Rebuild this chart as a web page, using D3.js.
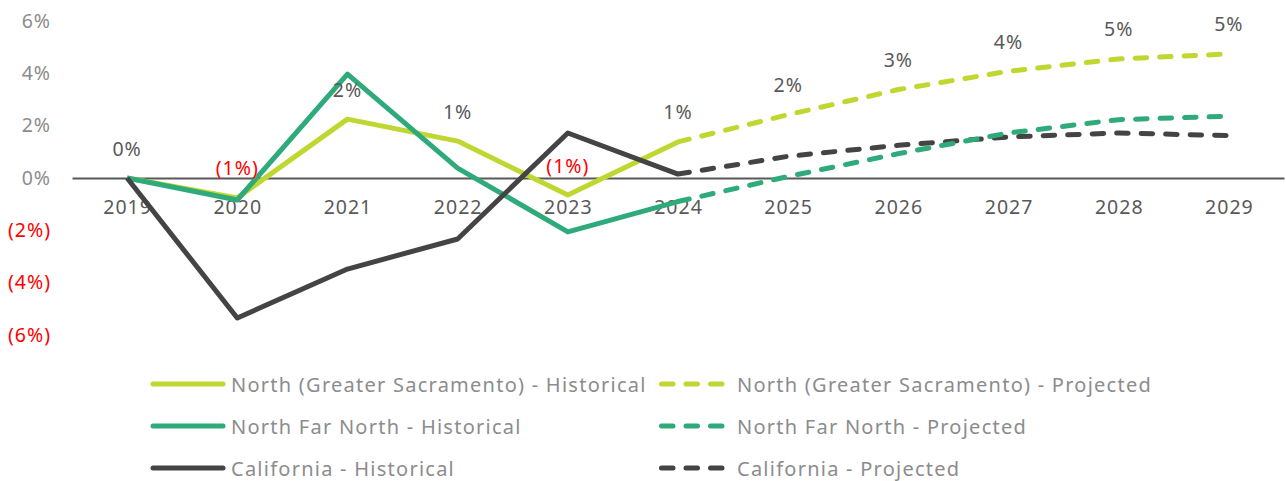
<!DOCTYPE html>
<html>
<head>
<meta charset="utf-8">
<script src="https://cdn.jsdelivr.net/npm/d3@7.9.0/dist/d3.min.js"></script>
<style>
  body { margin: 0; background: #fff; }
  svg { display: block; font-family: "Noto Sans", sans-serif; }
</style>
</head>
<body>
<svg id="chart" width="1286" height="481"></svg>
<script>
// Years on the category axis
const years = ['2019', '2020', '2021', '2022', '2023', '2024', '2025', '2026', '2027', '2028', '2029'];
const histYears = ['2019', '2020', '2021', '2022', '2023', '2024'];
const projYears = ['2024', '2025', '2026', '2027', '2028', '2029'];

// Annual change, %
const sacHist = [0, -0.76, 2.25, 1.41, -0.65, 1.38];
const sacProj = [1.38, 2.42, 3.38, 4.08, 4.55, 4.74];
const farHist = [0, -0.84, 3.97, 0.38, -2.06, -0.9];
const farProj = [-0.9, 0.06, 0.93, 1.72, 2.23, 2.36];
const caHist = [0, -5.35, -3.48, -2.33, 1.72, 0.15];
const caProj = [0.15, 0.83, 1.25, 1.57, 1.72, 1.62];

const yTicks = [-6, -4, -2, 0, 2, 4, 6];

const regionNames = ['North (Greater Sacramento)', 'North Far North', 'California'];
const regionColors = ['#bfd730', '#2eaa7b', '#444444'];

const svg = d3.select('#chart');

const x = d3.scalePoint().domain(years).range([72, 1284]).padding(0.5);
const y = d3.scaleLinear().domain([-6, 6]).range([335, 21]);

const pct = v => {
  const r = Math.round(Math.abs(v));
  return v < -0.005 ? `(${r}%)` : `${r}%`;
};

// y axis labels
const yAxis = svg.append('g')
  .attr('transform', 'translate(72,0)')
  .call(d3.axisLeft(y).tickValues(yTicks).tickSize(0).tickPadding(21).tickFormat(pct));
yAxis.select('.domain').remove();
yAxis.selectAll('text')
  .attr('font-size', 19.5)
  .attr('letter-spacing', 1)
  .attr('font-family', '"Noto Sans", sans-serif')
  .attr('fill', d => d < 0 ? '#ff0000' : '#8c8c8c');

// x axis sits on zero
const xAxis = svg.append('g')
  .attr('transform', `translate(0,${y(0)})`)
  .call(d3.axisBottom(x).tickSize(0).tickSizeOuter(0).tickPadding(22));
xAxis.select('.domain').attr('stroke', '#595959').attr('stroke-width', 2);
xAxis.selectAll('text')
  .attr('font-size', 19.5)
  .attr('letter-spacing', 1)
  .attr('font-family', '"Noto Sans", sans-serif')
  .attr('fill', '#595959');

const line = d3.line()
  .x(d => x(d[0]))
  .y(d => y(d[1]));

const dash = '11.5 13';

const series = [
  { vals: sacHist, yrs: histYears, color: regionColors[0], dashed: false },
  { vals: farHist, yrs: histYears, color: regionColors[1], dashed: false },
  { vals: caHist, yrs: histYears, color: regionColors[2], dashed: false },
  { vals: sacProj, yrs: projYears, color: regionColors[0], dashed: true },
  { vals: caProj, yrs: projYears, color: regionColors[2], dashed: true },
  { vals: farProj, yrs: projYears, color: regionColors[1], dashed: true }
];

series.forEach(s => {
  svg.append('path')
    .datum(d3.zip(s.yrs, s.vals))
    .attr('d', line)
    .attr('fill', 'none')
    .attr('stroke', s.color)
    .attr('stroke-width', 5)
    .attr('stroke-linejoin', 'round')
    .attr('stroke-linecap', s.dashed ? 'round' : 'butt')
    .attr('stroke-dasharray', s.dashed ? dash : null);
});

// data labels for the Sacramento series
const sacAll = d3.zip(histYears, sacHist).concat(d3.zip(projYears.slice(1), sacProj.slice(1)));
svg.append('g').selectAll('text')
  .data(sacAll)
  .join('text')
  .attr('x', d => x(d[0]))
  .attr('y', d => y(d[1]) - 30)
  .attr('text-anchor', 'middle')
  .attr('dominant-baseline', 'central')
  .attr('font-size', 19.5)
  .attr('letter-spacing', 1)
  .attr('fill', d => d[1] < 0 ? '#ff0000' : '#595959')
  .text(d => pct(d[1]));

// legend
const legRows = [384, 426, 468];
regionNames.forEach((name, i) => {
  const g = svg.append('g').attr('transform', `translate(0,${legRows[i]})`);
  g.append('line')
    .attr('x1', 153).attr('x2', 223)
    .attr('stroke', regionColors[i]).attr('stroke-width', 5)
    .attr('stroke-linecap', 'round');
  g.append('text')
    .attr('x', 231).attr('dominant-baseline', 'central')
    .attr('font-size', 20).attr('letter-spacing', 1.25).attr('fill', '#8c8c8c')
    .text(`${name} - Historical`);
  g.append('line')
    .attr('x1', 661.5).attr('x2', 722.5)
    .attr('stroke', regionColors[i]).attr('stroke-width', 5)
    .attr('stroke-linecap', 'round')
    .attr('stroke-dasharray', dash);
  g.append('text')
    .attr('x', 737).attr('dominant-baseline', 'central')
    .attr('font-size', 20).attr('letter-spacing', 1.25).attr('fill', '#8c8c8c')
    .text(`${name} - Projected`);
});
</script>
</body>
</html>
